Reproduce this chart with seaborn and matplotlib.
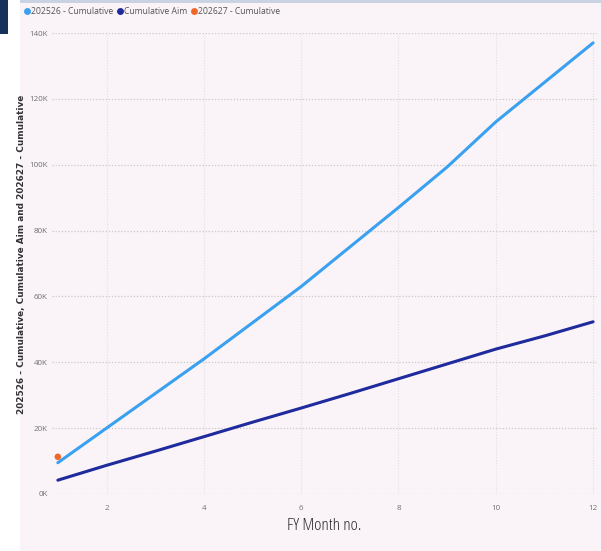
import matplotlib
matplotlib.use("Agg")
import matplotlib.pyplot as plt
import matplotlib.patches as mpatches
from matplotlib.lines import Line2D
from matplotlib.ticker import FuncFormatter
import pandas as pd
import seaborn as sns

# FY month numbers and cumulative totals
months = [1, 2, 3, 4, 5, 6, 7, 8, 9, 10, 11, 12]
cum_202526 = [9500, 20000, 30500, 41000, 52000, 63000, 75000, 87000, 99300, 113000, 125000, 137000]
cum_aim = [4200, 8700, 13000, 17400, 21800, 26100, 30500, 35000, 39500, 44000, 48000, 52300]
months_202627 = [1]
cum_202627 = [11300]

series_names = ["202526 - Cumulative", "Cumulative Aim", "202627 - Cumulative"]
series_colors = ["#3aa0f0", "#1f2a9c", "#f0672a"]
y_ticks = [0, 20000, 40000, 60000, 80000, 100000, 120000, 140000]
x_ticks = [2, 4, 6, 8, 10, 12]

df = pd.DataFrame({
    "FY Month no.": months * 2,
    "value": cum_202526 + cum_aim,
    "series": [series_names[0]] * len(months) + [series_names[1]] * len(months),
})
df_new = pd.DataFrame({"FY Month no.": months_202627, "value": cum_202627})

sns.set_theme(style="white")
plt.rcParams["font.family"] = ["Open Sans", "DejaVu Sans"]

bg = "#faf4f8"
fig = plt.figure(figsize=(6.01, 5.51), dpi=100, facecolor="white")

# report panel background, top border and side tab
fig.patches.append(mpatches.Rectangle((20 / 601, 0), 1, 1, transform=fig.transFigure,
                                      facecolor=bg, edgecolor="none", zorder=-3))
fig.patches.append(mpatches.Rectangle((20 / 601, 1 - 2.5 / 551), 1, 2.5 / 551, transform=fig.transFigure,
                                      facecolor="#c9d3e3", edgecolor="none", zorder=-2))
fig.patches.append(mpatches.Rectangle((0, 1 - 34 / 551), 8 / 601, 34 / 551, transform=fig.transFigure,
                                      facecolor="#17325a", edgecolor="none", zorder=-1))

ax = fig.add_axes([52 / 601, 1 - 494 / 551, (597 - 52) / 601, (494 - 33) / 551])
ax.set_facecolor(bg)

sns.lineplot(data=df, x="FY Month no.", y="value", hue="series",
             hue_order=series_names[:2], palette=series_colors[:2],
             linewidth=2.2, ax=ax, legend=False)
sns.scatterplot(data=df_new, x="FY Month no.", y="value", color=series_colors[2],
                s=22, edgecolor="none", ax=ax, legend=False, zorder=5)

ax.set_xlim(0.88, 12.08)
ax.set_ylim(0, 140000)
ax.set_xticks(x_ticks)
ax.set_yticks(y_ticks)
ax.yaxis.set_major_formatter(FuncFormatter(lambda v, _: f"{int(v / 1000)}K"))
ax.tick_params(axis="both", length=0, labelsize=5.8, colors="#707070")
ax.tick_params(axis="y", pad=3)
ax.tick_params(axis="x", pad=8)

ax.grid(True, axis="y", color="#c8c8c8", linestyle=(0, (1, 1.5)), linewidth=0.9)
ax.grid(True, axis="x", color="#e4dfe3", linestyle=(0, (1, 1.5)), linewidth=0.8)
for s in ax.spines.values():
    s.set_visible(False)

ax.set_xlabel("FY Month no.", fontsize=12.5, color="#2a2a2a", labelpad=4,
              fontstretch="condensed")
ax.set_ylabel("202526 - Cumulative, Cumulative Aim and 202627 - Cumulative",
              fontsize=6.4, fontweight="bold", color="#333333", family="DejaVu Sans")
ax.yaxis.set_label_coords(-0.048, 0.52)

handles = [Line2D([], [], marker="o", linestyle="none", markersize=5,
                  markerfacecolor=c, markeredgecolor="none") for c in series_colors]
fig.legend(handles, series_names, loc="upper left", bbox_to_anchor=(20 / 601, 1 - 4 / 551),
           ncol=3, frameon=False, fontsize=6.2, handletextpad=0.05, columnspacing=0.4,
           labelcolor="#555555", borderaxespad=0, handlelength=0.8)

fig.savefig("out.png", dpi=100, facecolor="white")
